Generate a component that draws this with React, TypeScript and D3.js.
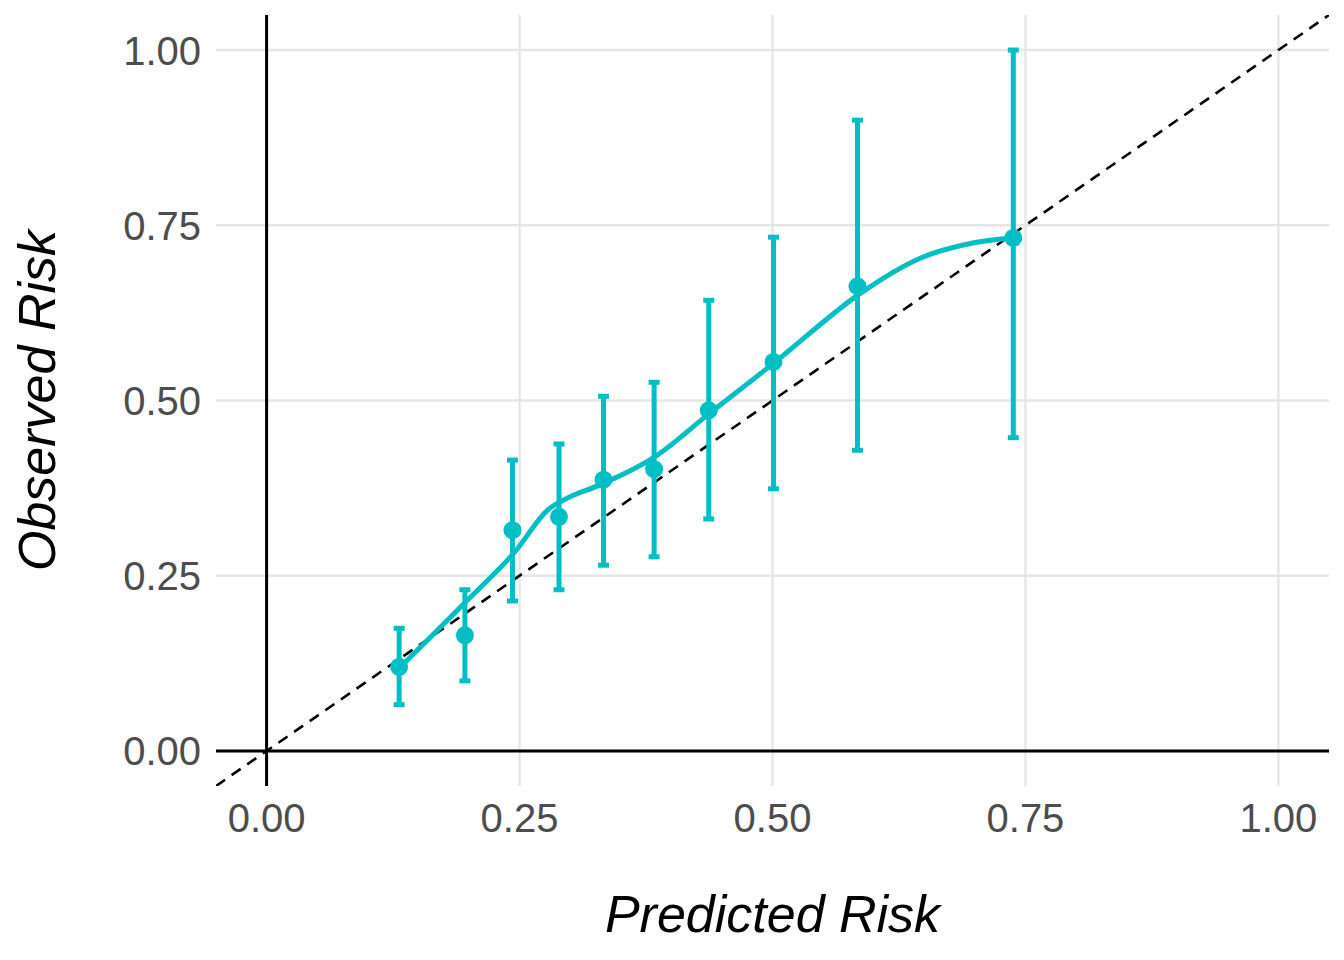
import { useEffect } from 'react';
import * as d3 from 'd3';

// binned calibration points
const predicted = [0.131, 0.196, 0.243, 0.289, 0.333, 0.383, 0.437, 0.501, 0.584, 0.738];
const observed = [0.12, 0.165, 0.315, 0.334, 0.387, 0.402, 0.486, 0.555, 0.663, 0.732];
const lower = [0.066, 0.1, 0.214, 0.23, 0.265, 0.277, 0.331, 0.374, 0.429, 0.447];
const upper = [0.175, 0.23, 0.415, 0.438, 0.506, 0.526, 0.643, 0.733, 0.9, 1.0];

// loess smoother
const smoothX = [0.131, 0.19, 0.243, 0.278, 0.302, 0.33, 0.383, 0.438, 0.501, 0.585, 0.646, 0.699, 0.738];
const smoothY = [0.118, 0.203, 0.28, 0.344, 0.364, 0.38, 0.419, 0.482, 0.553, 0.651, 0.703, 0.725, 0.732];

const ticks = [0, 0.25, 0.5, 0.75, 1];

const W = 1344;
const H = 960;
const TEAL = '#00BFC4';
const FONT = '"Liberation Sans", Arial, Helvetica, sans-serif';

export default function App() {
  useEffect(() => {
    document.body.style.margin = '0';
  }, []);

  const x = d3.scaleLinear().domain([-0.05, 1.05]).range([216, 1329]);
  const y = d3.scaleLinear().domain([-0.05, 1.05]).range([786, 15]);

  const pts = predicted.map((p, i) => ({ p, o: observed[i], lo: lower[i], hi: upper[i] }));
  const smooth = smoothX.map((sx, i) => [sx, smoothY[i]] as [number, number]);
  const line = d3.line<[number, number]>()
    .x(d => x(d[0])).y(d => y(d[1]))
    .curve(d3.curveCatmullRom.alpha(0.5));

  const [x0, x1] = x.range();
  const [y0, y1] = y.range();
  const capHalf = 5.5;

  return (
    <svg width={W} height={H} style={{ display: 'block', background: '#fff' }} fontFamily={FONT}>
      <defs>
        <clipPath id="panel">
          <rect x={x0} y={y1} width={x1 - x0} height={y0 - y1} />
        </clipPath>
      </defs>

      {/* grid */}
      {ticks.map(t => (
        <line key={'gx' + t} x1={x(t)} x2={x(t)} y1={y1} y2={y0} stroke="#E6E6E6" strokeWidth={2.4} />
      ))}
      {ticks.map(t => (
        <line key={'gy' + t} x1={x0} x2={x1} y1={y(t)} y2={y(t)} stroke="#E6E6E6" strokeWidth={2.4} />
      ))}

      {/* axis lines at zero */}
      <line x1={x0} x2={x1} y1={y(0)} y2={y(0)} stroke="#000" strokeWidth={3} />
      <line x1={x(0)} x2={x(0)} y1={y1} y2={y0} stroke="#000" strokeWidth={3} />

      {/* perfect calibration */}
      <g clipPath="url(#panel)">
        <line x1={x(-0.05)} y1={y(-0.05)} x2={x(1.05)} y2={y(1.05)}
          stroke="#000" strokeWidth={2.6} strokeDasharray="11 8" />
      </g>

      {/* error bars */}
      {pts.map((d, i) => (
        <g key={'e' + i} stroke={TEAL} strokeWidth={5}>
          <line x1={x(d.p)} x2={x(d.p)} y1={y(d.hi)} y2={y(d.lo)} />
          <line x1={x(d.p) - capHalf} x2={x(d.p) + capHalf} y1={y(d.hi)} y2={y(d.hi)} />
          <line x1={x(d.p) - capHalf} x2={x(d.p) + capHalf} y1={y(d.lo)} y2={y(d.lo)} />
        </g>
      ))}

      {/* smoother */}
      <path d={line(smooth) ?? ''} fill="none" stroke={TEAL} strokeWidth={5} strokeLinejoin="round" strokeLinecap="round" />

      {/* points */}
      {pts.map((d, i) => (
        <circle key={'p' + i} cx={x(d.p)} cy={y(d.o)} r={9} fill={TEAL} />
      ))}

      {/* tick labels */}
      {ticks.map(t => (
        <text key={'tx' + t} x={x(t)} y={832} textAnchor="middle" fontSize={40} fill="#4D4D4D">
          {t.toFixed(2)}
        </text>
      ))}
      {ticks.map(t => (
        <text key={'ty' + t} x={201} y={y(t) + 14.5} textAnchor="end" fontSize={40} fill="#4D4D4D">
          {t.toFixed(2)}
        </text>
      ))}

      {/* axis titles */}
      <text x={(x0 + x1) / 2} y={932} textAnchor="middle" fontSize={52} fontStyle="italic" fill="#000">
        Predicted Risk
      </text>
      <text transform={`translate(55,${(y0 + y1) / 2}) rotate(-90)`} textAnchor="middle" fontSize={52} fontStyle="italic" fill="#000">
        Observed Risk
      </text>
    </svg>
  );
}
